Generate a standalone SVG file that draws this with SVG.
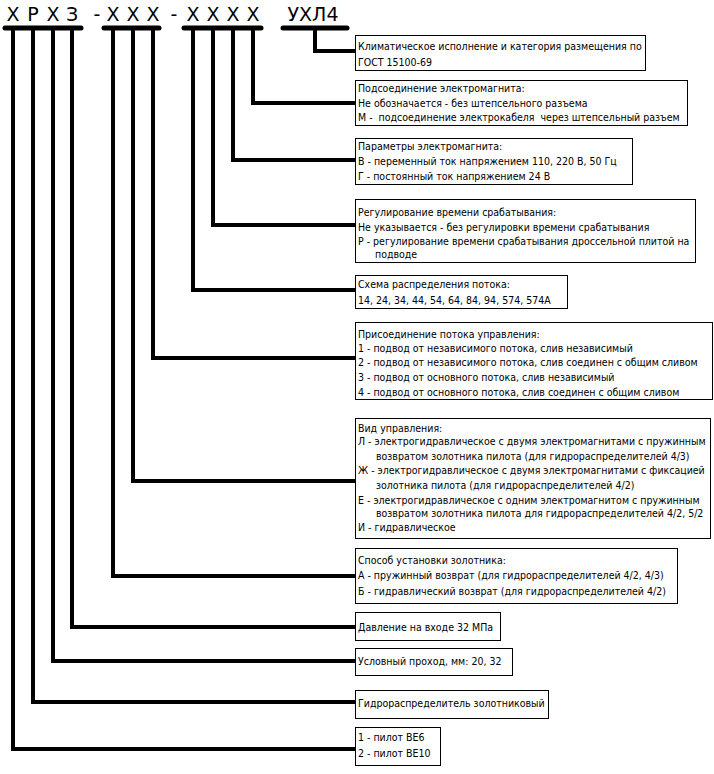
<svg xmlns="http://www.w3.org/2000/svg" width="714" height="774" viewBox="0 0 714 774">
<style>
.hd{font-family:"DejaVu Sans",Verdana,sans-serif;font-size:19px;fill:#000;text-anchor:middle}
.t{font-family:"DejaVu Sans Condensed","DejaVu Sans",sans-serif;font-size:10.5px;fill:#000}
.box{fill:#fff;stroke:#000;stroke-width:1}
.bar{stroke:#000;stroke-width:5;stroke-linecap:round;fill:none}
.ln{stroke:#000;stroke-width:4;fill:none;stroke-linejoin:miter}
</style>
<rect width="714" height="774" fill="#fff"/>
<g id="header">
<text class="hd" x="13" y="21">Х</text>
<text class="hd" x="33" y="21">Р</text>
<text class="hd" x="53" y="21">Х</text>
<text class="hd" x="72" y="21">З</text>
<text class="hd" x="97" y="21">-</text>
<text class="hd" x="113" y="21">Х</text>
<text class="hd" x="133" y="21">Х</text>
<text class="hd" x="153" y="21">Х</text>
<text class="hd" x="174" y="21">-</text>
<text class="hd" x="193" y="21">Х</text>
<text class="hd" x="213" y="21">Х</text>
<text class="hd" x="233" y="21">Х</text>
<text class="hd" x="253" y="21">Х</text>
<text class="hd" x="313" y="21">УХЛ4</text>
</g>
<g id="connectors">
<line class="bar" x1="5" y1="28" x2="81" y2="28"/>
<line class="bar" x1="104" y1="28" x2="159" y2="28"/>
<line class="bar" x1="184" y1="28" x2="261" y2="28"/>
<line class="bar" x1="283" y1="28" x2="347" y2="28"/>
<polyline class="ln" points="315,28 315,51 355,51"/>
<polyline class="ln" points="253,28 253,103 355,103"/>
<polyline class="ln" points="233,28 233,160 355,160"/>
<polyline class="ln" points="213,28 213,225 355,225"/>
<polyline class="ln" points="193,28 193,290 355,290"/>
<polyline class="ln" points="153,28 153,358 355,358"/>
<polyline class="ln" points="133,28 133,481 355,481"/>
<polyline class="ln" points="113,28 113,576 355,576"/>
<polyline class="ln" points="72,28 72,627 355,627"/>
<polyline class="ln" points="53,28 53,661 355,661"/>
<polyline class="ln" points="33,28 33,702 355,702"/>
<polyline class="ln" points="13,28 13,749 355,749"/>
</g>
<g id="n1">
<rect class="box" x="355.5" y="35.5" width="290" height="35"/>
<text class="t" x="358" y="50">Климатическое исполнение и категория размещения по</text>
<text class="t" x="358" y="66">ГОСТ 15100-69</text>
</g>
<g id="n2">
<rect class="box" x="355.5" y="80.5" width="332" height="45"/>
<text class="t" x="358" y="92">Подсоединение электромагнита:</text>
<text class="t" x="358" y="107">Не обозначается - без штепсельного разъема</text>
<text class="t" x="358" y="121" xml:space="preserve">М -  подсоединение электрокабеля  через штепсельный разъем</text>
</g>
<g id="n3">
<rect class="box" x="355.5" y="138.5" width="277" height="46"/>
<text class="t" x="358" y="150">Параметры электромагнита:</text>
<text class="t" x="358" y="165">В - переменный ток напряжением 110, 220 В, 50 Гц</text>
<text class="t" x="358" y="180">Г - постоянный ток напряжением 24 В</text>
</g>
<g id="n4">
<rect class="box" x="355.5" y="199.5" width="340" height="63"/>
<text class="t" x="358" y="216">Регулирование времени срабатывания:</text>
<text class="t" x="358" y="231">Не указывается - без регулировки времени срабатывания</text>
<text class="t" x="358" y="245">Р - регулирование времени срабатывания дроссельной плитой на</text>
<text class="t" x="375" y="258">подводе</text>
</g>
<g id="n5">
<rect class="box" x="355.5" y="275.5" width="212" height="33"/>
<text class="t" x="358" y="288">Схема распределения потока:</text>
<text class="t" x="358" y="304">14, 24, 34, 44, 54, 64, 84, 94, 574, 574А</text>
</g>
<g id="n6">
<rect class="box" x="355.5" y="322.5" width="357" height="77"/>
<text class="t" x="358" y="338">Присоединение потока управления:</text>
<text class="t" x="358" y="352">1 - подвод от независимого потока, слив независимый</text>
<text class="t" x="358" y="366">2 - подвод от независимого потока, слив соединен с общим сливом</text>
<text class="t" x="358" y="381">3 - подвод от основного потока, слив независимый</text>
<text class="t" x="358" y="396">4 - подвод от основного потока, слив соединен с общим сливом</text>
</g>
<g id="n7">
<rect class="box" x="355.5" y="418.5" width="355" height="120"/>
<text class="t" x="358" y="432">Вид управления:</text>
<text class="t" x="358" y="445">Л - электрогидравлическое с двумя электромагнитами с пружинным</text>
<text class="t" x="376" y="460">возвратом золотника пилота (для гидрораспределителей 4/3)</text>
<text class="t" x="358" y="474">Ж - электрогидравлическое с двумя электромагнитами с фиксацией</text>
<text class="t" x="376" y="489">золотника пилота (для гидрораспределителей 4/2)</text>
<text class="t" x="358" y="504">Е - электрогидравлическое с одним электромагнитом с пружинным</text>
<text class="t" x="376" y="517">возвратом золотника пилота для гидрораспределителей 4/2, 5/2</text>
<text class="t" x="358" y="531">И - гидравлическое</text>
</g>
<g id="n8">
<rect class="box" x="355.5" y="548.5" width="322" height="55"/>
<text class="t" x="358" y="564">Способ установки золотника:</text>
<text class="t" x="358" y="579">А - пружинный возврат (для гидрораспределителей 4/2, 4/3)</text>
<text class="t" x="358" y="595">Б - гидравлический возврат (для гидрораспределителей 4/2)</text>
</g>
<g id="n9">
<rect class="box" x="355.5" y="612.5" width="145" height="28"/>
<text class="t" x="358" y="631">Давление на входе 32 МПа</text>
</g>
<g id="n10">
<rect class="box" x="355.5" y="648.5" width="157" height="27"/>
<text class="t" x="358" y="665">Условный проход, мм: 20, 32</text>
</g>
<g id="n11">
<rect class="box" x="355.5" y="690.5" width="193" height="28"/>
<text class="t" x="358" y="707">Гидрораспределитель золотниковый</text>
</g>
<g id="n12">
<rect class="box" x="355.5" y="727.5" width="85" height="38"/>
<text class="t" x="358" y="741">1 - пилот ВЕ6</text>
<text class="t" x="358" y="757">2 - пилот ВЕ10</text>
</g>
</svg>
